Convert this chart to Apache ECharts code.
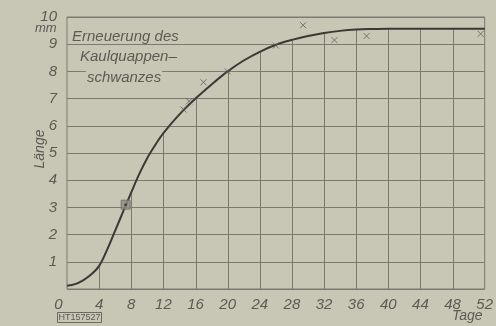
<!DOCTYPE html>
<html>
<head>
<meta charset="utf-8">
<script src="https://cdn.jsdelivr.net/npm/echarts@6/dist/echarts.min.js"></script>
<style>
html,body{margin:0;padding:0;background:#c8c6b5;}
#c{width:496px;height:326px;}
</style>
</head>
<body>
<div id="c"></div>
<script>
// Curve (Länge in mm vs. Tage)
const days    = [0, 1, 2, 3, 4, 5, 6, 7, 8, 9, 10, 11, 12, 14, 16, 18, 20, 22, 24, 26, 28, 30, 32, 34, 36, 38, 40, 44, 48, 52];
const lengths = [0.12, 0.18, 0.32, 0.53, 0.85, 1.45, 2.15, 2.85, 3.55, 4.23, 4.82, 5.3, 5.73, 6.42, 7.0, 7.52, 8.0, 8.4, 8.72, 8.98, 9.16, 9.3, 9.41, 9.49, 9.54, 9.56, 9.57, 9.57, 9.57, 9.57];
// Measured points (×)
const markDays    = [14.5, 15.2, 17.0, 20.0, 26.0, 29.4, 33.3, 37.3, 51.5];
const markLengths = [6.6, 6.9, 7.6, 8.0, 8.95, 9.7, 9.15, 9.3, 9.38];
// Boxed point
const boxDays = [7.3];
const boxLengths = [3.1];
// Tick labels
const xTicks = [0, 4, 8, 12, 16, 20, 24, 28, 32, 36, 40, 44, 48, 52];
const yTicks = [0, 1, 2, 3, 4, 5, 6, 7, 8, 9, 10];

const bg = '#c8c6b5';
const gridColor = '#7b7a70';
const textColor = '#5c5b53';
const font = '"Liberation Sans", Arial, sans-serif';

const curve = days.map((d, i) => [d, lengths[i]]);
const verticals = curve.filter(p => p[0] > 0 && p[0] < 52 && p[0] % 4 === 0);

const chart = echarts.init(document.getElementById('c'));
chart.setOption({
  backgroundColor: bg,
  animation: false,
  grid: { left: 67, right: 6, top: 17, bottom: 37, show: true, borderColor: gridColor, borderWidth: 1, backgroundColor: 'transparent' },
  xAxis: {
    type: 'value', min: 0, max: 52, interval: 4,
    axisLine: { show: false }, axisTick: { show: false }, splitLine: { show: false },
    axisLabel: {
      margin: 8, color: textColor, fontFamily: font, fontStyle: 'italic', fontSize: 15,
      formatter: v => (v === 0 ? '{z|0}' : String(v)),
      rich: { z: { color: textColor, fontFamily: font, fontStyle: 'italic', fontSize: 15, padding: [0, 17, 0, 0] } }
    }
  },
  yAxis: {
    type: 'value', min: 0, max: 10, interval: 1,
    axisLine: { show: false }, axisTick: { show: false },
    splitLine: { show: true, lineStyle: { color: gridColor, width: 1 } },
    axisLabel: {
      margin: 10, color: textColor, fontFamily: font, fontStyle: 'italic', fontSize: 15,
      padding: [4, 0, 0, 0],
      formatter: v => (v === 0 ? '' : String(v))
    }
  },
  series: [
    {
      type: 'custom',
      data: verticals,
      silent: true,
      z: 1,
      renderItem: (params, api) => {
        const p0 = api.coord([api.value(0), 0]);
        const p1 = api.coord([api.value(0), api.value(1)]);
        const x = Math.round(p0[0]) + 0.5;
        return { type: 'line', shape: { x1: x, y1: p0[1], x2: x, y2: p1[1] }, style: { stroke: gridColor, lineWidth: 1 } };
      }
    },
    {
      type: 'line',
      data: curve,
      smooth: 0.35,
      symbol: 'none',
      z: 3,
      lineStyle: { color: '#3a3a34', width: 2 }
    },
    {
      type: 'scatter',
      data: markDays.map((d, i) => [d, markLengths[i]]),
      symbol: 'path://M0,0L10,10M10,0L0,10',
      symbolSize: 6,
      z: 4,
      itemStyle: { color: 'rgba(0,0,0,0)', borderColor: '#5f5e57', borderWidth: 1 }
    },
    {
      type: 'scatter',
      data: boxDays.map((d, i) => [d, boxLengths[i]]),
      symbol: 'rect',
      symbolSize: 9,
      z: 5,
      itemStyle: { color: '#8f8d85', borderColor: '#6b6a63', borderWidth: 1 }
    },
    {
      type: 'scatter',
      data: boxDays.map((d, i) => [d, boxLengths[i]]),
      symbol: 'circle',
      symbolSize: 3,
      z: 6,
      itemStyle: { color: '#33332e' }
    }
  ],
  graphic: [
    { type: 'text', left: 72, top: 29, z: 10, style: { text: 'Erneuerung des', fill: textColor, font: 'italic 15px ' + font } },
    { type: 'text', left: 80, top: 49, z: 10, style: { text: 'Kaulquappen–', fill: textColor, font: 'italic 15px ' + font } },
    { type: 'text', left: 86, top: 69, z: 10, style: { text: 'schwanzes', fill: textColor, font: 'italic 15px ' + font, backgroundColor: bg, padding: [1, 1, 0, 1] } },
    { type: 'text', left: 35, top: 22, z: 10, style: { text: 'mm', fill: textColor, font: 'italic 13px ' + font } },
    { type: 'text', x: 40, y: 149, rotation: Math.PI / 2, z: 10, style: { text: 'Länge', fill: textColor, font: 'italic 14px ' + font, textAlign: 'center', textVerticalAlign: 'middle' } },
    { type: 'text', left: 452, top: 309, z: 10, style: { text: 'Tage', fill: textColor, font: 'italic 14px ' + font } },
    { type: 'text', left: 57, top: 312, z: 10, style: { text: 'HT157527', fill: textColor, font: '9px ' + font, borderColor: '#6b6a63', borderWidth: 1, padding: [1, 1, 0, 1] } }
  ]
});
</script>
</body>
</html>
